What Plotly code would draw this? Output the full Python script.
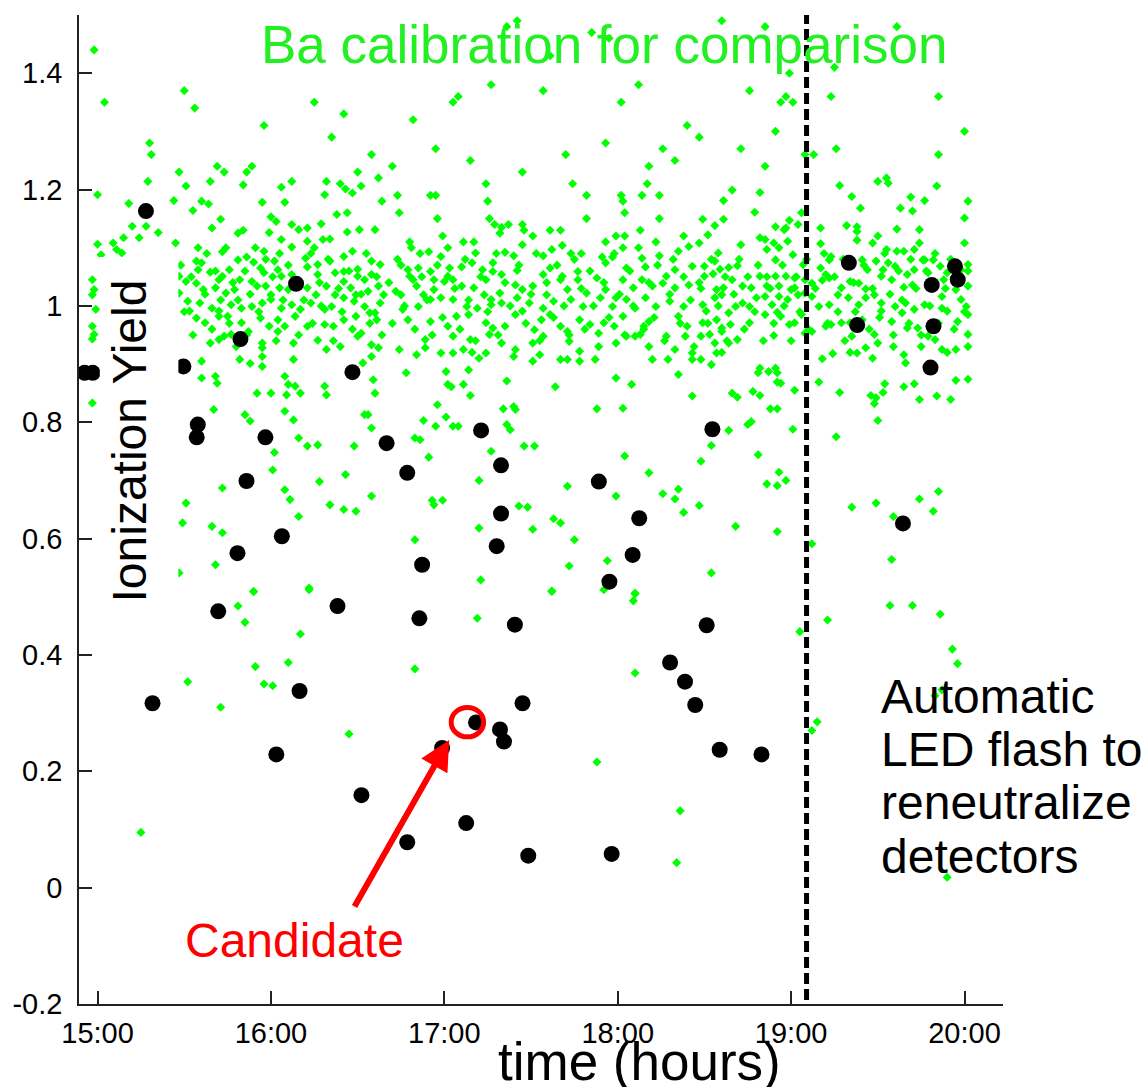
import plotly.graph_objects as go

# ---------------- data (time in hours, ionization yield) ----------------
tick_hours = [15, 16, 17, 18, 19, 20]
tick_hour_labels = ["15:00", "16:00", "17:00", "18:00", "19:00", "20:00"]
y_tick_vals = [-0.2, 0, 0.2, 0.4, 0.6, 0.8, 1.0, 1.2, 1.4]
y_tick_labels = ["-0.2", "0", "0.2", "0.4", "0.6", "0.8", "1", "1.2", "1.4"]

led_flash_time = 19.089
candidate_time = 17.133
candidate_yield = 0.2845

# black: WIMP-search events
events = [
    (14.925, 0.885), (14.972, 0.885),
    (15.279, 1.163), (16.145, 1.038), (15.824, 0.943), (15.495, 0.896), (16.470, 0.886),
    (15.578, 0.796), (15.572, 0.774), (15.968, 0.774), (16.667, 0.764), (15.859, 0.699),
    (16.063, 0.604), (15.807, 0.575),
    (15.696, 0.475), (16.384, 0.484), (15.317, 0.317), (16.165, 0.338), (16.031, 0.229),
    (16.522, 0.159),
    (17.212, 0.786), (16.786, 0.713), (17.327, 0.726), (17.891, 0.698), (17.327, 0.643),
    (18.124, 0.635), (17.302, 0.587), (18.086, 0.572), (16.872, 0.555), (17.952, 0.526),
    (16.856, 0.463), (17.407, 0.452), (18.302, 0.387), (18.388, 0.354), (18.447, 0.314),
    (17.451, 0.317), (17.183, 0.284), (17.321, 0.272), (17.344, 0.251), (16.987, 0.240),
    (17.126, 0.111), (16.786, 0.078), (17.484, 0.055), (17.965, 0.058),
    (19.333, 1.074), (19.945, 1.068), (19.961, 1.045), (19.811, 1.036), (19.381, 0.967),
    (19.821, 0.965), (19.804, 0.894), (18.546, 0.788), (19.645, 0.626),
    (18.513, 0.451), (18.588, 0.237), (18.829, 0.229),
]

# green: Ba calibration events, grouped by region of the chart
ba_top = [
    (14.98, 1.44), (15.04, 1.35), (15.50, 1.37), (15.56, 1.34), (15.96, 1.31), (15.30, 1.28),
    (15.31, 1.26), (15.69, 1.24), (15.73, 1.23), (15.47, 1.23), (15.89, 1.24), (15.86, 1.23),
    (16.25, 1.35), (16.35, 1.29), (16.42, 1.33), (16.50, 1.23), (16.58, 1.26), (16.62, 1.22),
    (16.70, 1.24), (16.82, 1.32), (16.95, 1.27), (17.05, 1.35), (17.08, 1.36), (17.15, 1.25),
    (17.27, 1.38), (17.36, 1.48), (17.42, 1.49), (17.45, 1.23), (17.57, 1.37), (17.61, 1.43),
    (17.70, 1.26), (17.85, 1.47), (17.93, 1.28), (17.95, 1.46), (18.02, 1.35), (18.12, 1.38),
    (18.18, 1.24), (18.26, 1.27), (18.33, 1.25), (18.40, 1.31),
    (18.60, 1.49), (18.85, 1.48), (19.61, 1.48), (18.99, 1.40), (19.25, 1.41), (18.76, 1.37),
    (18.94, 1.35), (18.97, 1.36), (19.01, 1.35), (19.23, 1.36), (19.85, 1.36), (20.00, 1.30),
    (18.91, 1.30), (18.47, 1.29), (18.71, 1.27), (18.85, 1.24), (19.08, 1.26), (19.13, 1.26),
    (19.26, 1.27), (19.85, 1.26), (19.55, 1.22),
]

ba_left = [
    (15.29, 1.214), (15.51, 1.206), (15.65, 1.214), (15.84, 1.208), (16.06, 1.204), (16.12, 1.214),
    (16.32, 1.214), (16.40, 1.210), (16.47, 1.194), (16.52, 1.206), (16.43, 1.201), (15.00, 1.191),
    (15.44, 1.181), (15.60, 1.180), (15.64, 1.175), (15.95, 1.178), (16.08, 1.178), (16.31, 1.191),
    (16.64, 1.180), (15.18, 1.176), (15.55, 1.164), (16.38, 1.157), (16.44, 1.160), (15.20, 1.137),
    (15.24, 1.117), (15.28, 1.137), (15.35, 1.126), (15.00, 1.106), (15.02, 1.088), (15.09, 1.108),
    (15.11, 1.097), (15.14, 1.091), (15.15, 1.117), (15.45, 1.108), (15.71, 1.149), (15.66, 1.134),
    (15.81, 1.125), (15.84, 1.130), (16.00, 1.153), (16.03, 1.145), (15.99, 1.126), (16.06, 1.114),
    (16.12, 1.140), (16.16, 1.131), (16.21, 1.134), (16.29, 1.141), (16.44, 1.127), (16.51, 1.131),
    (16.60, 1.131),
    (15.72, 1.093), (15.81, 1.079), (15.86, 1.084), (15.90, 1.075), (15.96, 1.094), (16.02, 1.077),
    (16.12, 1.101), (16.21, 1.111), (16.25, 1.100), (16.30, 1.114), (16.34, 1.115), (16.20, 1.082),
    (16.27, 1.071), (16.34, 1.077), (16.42, 1.085), (16.47, 1.094), (16.50, 1.063), (16.58, 1.077),
    (16.63, 1.071), (15.57, 1.077), (15.60, 1.074), (15.58, 1.062), (15.65, 1.058), (15.72, 1.051),
    (15.76, 1.062), (15.82, 1.045), (15.89, 1.042), (15.94, 1.065), (15.96, 1.057), (16.04, 1.062),
    (16.06, 1.051), (16.12, 1.054), (16.21, 1.067), (16.27, 1.054), (16.37, 1.057), (16.42, 1.059),
    (16.50, 1.051), (16.54, 1.045), (16.58, 1.054), (15.47, 1.051), (15.51, 1.042), (15.57, 1.039),
    (15.61, 1.028), (15.68, 1.031), (15.74, 1.022), (15.79, 1.028), (15.70, 1.045), (15.92, 1.034),
    (15.97, 1.034), (16.00, 1.019), (16.05, 1.031), (16.10, 1.028), (16.21, 1.031), (16.26, 1.019),
    (16.32, 1.034), (16.37, 1.019), (16.42, 1.042), (16.46, 1.031), (16.49, 1.019), (16.56, 1.025),
    (16.62, 1.034), (16.65, 1.019), (15.47, 1.022), (15.52, 1.008), (15.59, 1.005), (15.66, 0.996),
    (15.70, 0.991), (15.77, 1.002), (15.83, 0.996), (15.89, 0.999), (15.95, 1.005), (16.00, 1.011),
    (16.06, 0.996), (16.12, 1.002), (16.17, 0.994), (16.23, 1.005), (16.31, 0.994), (16.35, 0.999),
    (16.42, 1.014), (16.48, 1.008), (16.54, 0.999), (16.60, 0.988), (16.63, 1.005), (15.53, 0.991),
    (15.57, 0.979), (15.62, 0.971), (15.70, 0.982), (15.75, 0.982), (15.83, 0.971), (15.94, 0.979),
    (15.99, 0.965), (16.04, 0.976), (16.08, 0.965), (16.14, 0.982), (16.21, 0.965), (16.31, 0.968),
    (16.36, 0.965), (16.42, 0.976), (16.49, 0.982), (16.57, 0.988), (16.61, 0.976), (15.65, 0.936),
    (15.70, 0.942), (15.73, 0.948), (15.77, 0.951), (15.95, 0.936), (15.95, 0.928), (16.04, 0.956),
    (16.13, 0.936), (16.27, 0.941), (16.32, 0.925), (16.40, 0.930), (16.50, 0.948), (16.52, 0.953),
    (16.58, 0.933), (16.62, 0.928), (15.87, 0.956),
    (15.60, 0.905), (15.60, 0.876), (15.68, 0.879), (15.69, 0.867), (15.82, 0.908), (15.88, 0.901),
    (15.95, 0.896), (15.95, 0.913), (16.13, 0.908), (16.08, 0.879), (16.10, 0.865), (16.14, 0.862),
    (16.00, 0.850), (16.09, 0.847), (15.92, 0.850), (16.17, 0.850), (16.31, 0.862), (16.32, 0.847),
    (16.53, 0.902), (16.58, 0.913), (16.59, 0.873), (16.60, 0.850), (15.67, 0.822), (15.85, 0.813),
    (15.88, 0.802), (16.08, 0.819), (16.13, 0.804), (16.16, 0.773), (16.02, 0.748), (16.21, 0.759),
    (16.27, 0.761), (16.48, 0.759), (16.54, 0.813), (16.56, 0.813), (16.58, 0.790), (16.01, 0.718),
    (16.28, 0.698), (16.43, 0.710), (15.72, 0.687), (16.08, 0.684), (16.11, 0.667), (16.34, 0.658),
    (16.42, 0.650), (16.49, 0.647), (16.58, 0.673), (15.51, 0.661), (15.49, 0.627), (15.66, 0.621),
    (15.72, 0.610), (16.16, 0.638), (15.68, 0.555), (15.90, 0.509), (16.22, 0.515), (15.47, 0.541),
    (14.97, 1.045), (14.98, 1.028), (14.97, 1.019), (14.99, 0.994), (14.97, 0.965), (14.98, 0.951),
    (14.97, 0.943), (14.97, 0.833),
]

ba_middle = [
    (16.73, 1.19), (16.74, 1.16), (16.92, 1.19), (16.95, 1.19), (16.96, 1.15), (17.24, 1.21),
    (17.25, 1.18), (17.26, 1.15), (17.29, 1.14), (17.32, 1.125), (17.33, 1.135), (17.37, 1.14),
    (17.45, 1.14), (17.46, 1.13), (17.51, 1.12), (17.61, 1.13), (17.67, 1.13), (17.74, 1.21),
    (17.82, 1.19), (17.82, 1.15), (18.02, 1.19), (18.03, 1.18), (18.04, 1.16), (18.14, 1.19),
    (18.17, 1.21), (18.24, 1.19), (18.24, 1.15), (18.13, 1.13), (18.22, 1.11), (18.38, 1.12),
    (16.99, 1.12), (17.11, 1.11), (17.17, 1.11), (17.93, 1.11), (17.99, 1.12), (18.04, 1.12),
    (16.81, 1.100), (16.75, 1.070), (16.86, 1.090), (16.91, 1.093), (16.98, 1.085), (17.10, 1.067),
    (17.16, 1.074), (17.18, 1.091), (17.28, 1.074), (17.35, 1.092), (17.40, 1.086), (17.45, 1.105),
    (17.57, 1.086), (17.62, 1.097), (17.68, 1.104), (17.73, 1.090), (17.79, 1.090), (17.91, 1.084),
    (17.97, 1.084), (18.03, 1.100), (18.14, 1.082), (18.24, 1.086), (18.35, 1.094), (18.41, 1.102),
    (17.22, 1.062), (17.28, 1.059), (17.33, 1.054), (17.42, 1.061), (17.57, 1.054), (17.61, 1.065),
    (17.68, 1.051), (17.77, 1.059), (17.93, 1.074), (18.05, 1.065), (18.16, 1.067), (18.28, 1.051),
    (18.33, 1.062), (18.43, 1.068), (16.79, 1.062), (16.85, 1.065), (16.92, 1.059), (17.03, 1.065),
    (16.94, 1.045), (17.02, 1.051),
    (16.72, 1.025), (16.75, 1.019), (16.80, 1.051), (16.82, 1.045), (16.84, 1.034), (16.88, 1.019),
    (16.94, 1.028), (17.00, 1.042), (17.05, 1.045), (17.10, 1.034), (17.17, 1.031), (17.24, 1.045),
    (17.23, 1.019), (17.32, 1.022), (17.27, 1.011), (17.41, 1.036), (17.45, 1.028), (17.51, 1.034),
    (17.59, 1.019), (17.67, 1.045), (17.71, 1.028), (17.77, 1.045), (17.82, 1.022), (17.88, 1.048),
    (17.93, 1.028), (17.99, 1.014), (18.03, 1.045), (18.09, 1.031), (18.14, 1.045), (18.20, 1.034),
    (18.26, 1.039), (18.33, 1.031), (18.41, 1.036), (16.76, 0.994), (16.85, 0.999), (16.92, 1.011),
    (16.98, 1.014), (17.05, 1.011), (17.13, 0.999), (17.19, 0.996), (17.27, 1.002), (17.33, 1.005),
    (17.42, 1.014), (17.49, 1.005), (17.57, 0.996), (17.63, 1.008), (17.73, 1.011), (17.80, 0.999),
    (17.90, 1.014), (17.97, 0.999), (18.05, 1.011), (18.10, 0.996), (18.16, 1.014), (18.22, 0.999),
    (18.30, 1.008), (18.38, 0.999),
    (16.79, 0.976), (16.92, 0.973), (17.02, 0.965), (17.07, 0.982), (17.14, 0.985), (17.24, 0.971),
    (17.28, 0.962), (17.35, 0.965), (17.41, 0.985), (17.45, 0.991), (17.52, 0.959), (17.56, 0.976),
    (17.61, 0.985), (17.67, 0.965), (17.71, 0.956), (17.78, 0.976), (17.84, 0.968), (17.92, 0.971),
    (17.98, 0.965), (18.03, 0.982), (18.10, 0.948), (18.15, 0.965), (18.18, 0.973), (18.28, 0.948),
    (18.35, 0.982), (18.40, 0.965), (16.89, 0.942), (16.89, 0.928), (17.05, 0.948), (17.15, 0.942),
    (17.26, 0.951), (17.33, 0.936), (17.41, 0.925), (17.51, 0.936), (17.57, 0.948), (17.72, 0.939),
    (17.78, 0.922), (17.89, 0.953), (17.99, 0.936), (18.05, 0.948), (18.13, 0.951), (18.18, 0.930),
    (18.33, 0.925), (18.39, 0.948), (18.43, 0.919),
    (16.74, 0.925), (16.84, 0.916), (16.98, 0.919), (17.05, 0.919), (17.11, 0.925), (17.16, 0.920),
    (17.20, 0.910), (17.24, 0.919), (17.40, 0.913), (17.51, 0.905), (17.55, 0.916), (17.67, 0.908),
    (17.71, 0.908), (17.78, 0.905), (17.87, 0.908), (17.99, 0.876), (18.08, 0.865), (18.20, 0.908),
    (18.29, 0.908), (18.35, 0.882), (18.43, 0.908), (16.78, 0.885), (17.01, 0.887), (17.14, 0.890),
    (17.02, 0.865), (17.04, 0.861), (17.11, 0.865), (17.15, 0.846), (17.36, 0.871), (17.64, 0.861),
    (17.88, 0.823), (18.03, 0.824), (16.96, 0.830), (17.01, 0.809), (16.88, 0.803), (16.95, 0.793),
    (17.05, 0.793), (17.08, 0.793), (17.34, 0.823), (17.40, 0.827), (17.41, 0.822), (17.36, 0.796),
    (17.38, 0.787), (16.83, 0.773), (16.86, 0.770), (18.43, 0.845), (17.27, 0.750), (17.46, 0.759),
    (17.52, 0.759), (16.91, 0.740), (18.04, 0.742), (18.18, 0.713), (18.26, 0.677), (18.35, 0.685),
    (17.99, 0.673), (18.33, 0.668), (18.38, 0.645), (17.71, 0.690), (17.20, 0.700), (16.93, 0.666),
    (16.94, 0.658), (16.99, 0.666), (17.43, 0.656), (17.48, 0.654), (17.63, 0.634), (17.67, 0.627),
    (17.20, 0.618), (17.51, 0.616), (16.83, 0.598), (17.75, 0.598), (17.94, 0.562), (17.72, 0.553),
    (17.21, 0.529), (17.62, 0.510), (18.10, 0.506),
]

ba_right = [
    (18.66, 1.199), (18.61, 1.181), (18.82, 1.195), (18.79, 1.161), (18.49, 1.149), (18.61, 1.149),
    (18.56, 1.138), (18.52, 1.122), (18.47, 1.108), (18.71, 1.105), (18.82, 1.117), (18.85, 1.114),
    (18.91, 1.136), (18.96, 1.131), (18.99, 1.147), (19.04, 1.140), (19.06, 1.160), (18.97, 1.134),
    (18.90, 1.108), (18.86, 1.097), (18.93, 1.100), (18.98, 1.111), (19.01, 1.088), (18.91, 1.079),
    (19.28, 1.207), (19.35, 1.188), (19.40, 1.168), (19.50, 1.214), (19.56, 1.211), (19.63, 1.168),
    (19.69, 1.187), (19.70, 1.163), (19.77, 1.181), (19.84, 1.206), (20.02, 1.180), (20.00, 1.151),
    (19.32, 1.138), (19.38, 1.136), (19.38, 1.128), (19.17, 1.134), (19.17, 1.107), (19.23, 1.085),
    (19.22, 1.079), (19.38, 1.113), (19.50, 1.120), (19.47, 1.108), (19.61, 1.132), (19.74, 1.131),
    (19.74, 1.108), (19.55, 1.097), (19.61, 1.094), (19.65, 1.094), (19.71, 1.097), (20.00, 1.108),
    (19.77, 1.079),
    (18.58, 1.091), (18.56, 1.077), (18.64, 1.066), (18.69, 1.069), (18.50, 1.068), (18.50, 1.051),
    (18.55, 1.055), (18.47, 1.040), (18.59, 1.063), (19.17, 1.065), (19.20, 1.054), (19.22, 1.048),
    (19.18, 1.044), (19.29, 1.031), (19.34, 1.042), (19.39, 1.039), (19.43, 1.029), (19.41, 1.079),
    (19.44, 1.062), (19.49, 1.077), (19.53, 1.062), (19.56, 1.074), (19.60, 1.068), (19.67, 1.054),
    (19.71, 1.062), (19.76, 1.079), (19.82, 1.079), (19.86, 1.068), (19.90, 1.057), (19.98, 1.062),
    (20.02, 1.071), (18.82, 1.051), (18.86, 1.050), (18.91, 1.051), (18.97, 1.051), (19.02, 1.048),
    (19.07, 1.071), (18.77, 1.031), (18.72, 1.034), (18.66, 1.045), (18.57, 1.028), (18.61, 1.031),
    (18.86, 1.034), (18.93, 1.034), (19.02, 1.031), (19.12, 1.039), (19.08, 1.045), (19.52, 1.051),
    (19.58, 1.045), (19.65, 1.032), (19.70, 1.036), (19.79, 1.057), (19.88, 1.045), (19.95, 1.028),
    (20.02, 1.034),
    (18.49, 1.002), (18.51, 0.991), (18.56, 1.014), (18.60, 1.019), (18.64, 0.988), (18.68, 0.999),
    (18.72, 1.005), (18.76, 0.999), (18.80, 1.014), (18.85, 1.016), (18.89, 1.002), (18.93, 1.016),
    (18.98, 1.011), (19.00, 1.028), (19.04, 1.019), (19.08, 1.022), (18.76, 0.971), (18.65, 0.968),
    (18.60, 0.962), (18.49, 0.971), (18.57, 0.976), (18.85, 0.985), (18.92, 0.989), (18.94, 0.982),
    (18.99, 0.968), (19.02, 0.971), (19.06, 0.985), (19.12, 1.016), (19.16, 0.999), (19.22, 1.002),
    (19.27, 1.019), (19.33, 1.014), (19.39, 1.002), (19.43, 1.014), (19.48, 1.019), (19.52, 1.005),
    (19.60, 0.999), (19.66, 1.005), (19.71, 0.994), (19.77, 1.002), (19.87, 1.016), (19.90, 0.991),
    (19.98, 1.011), (20.01, 0.999), (20.02, 0.985), (19.67, 0.962), (19.73, 0.962), (19.48, 0.951),
    (19.23, 0.968), (19.20, 0.965), (19.29, 0.971), (19.34, 0.971), (19.41, 0.976), (19.52, 0.991),
    (19.58, 0.973), (19.64, 0.988), (19.87, 0.996), (19.96, 0.973),
    (18.48, 0.948), (18.53, 0.951), (18.56, 0.936), (18.60, 0.956), (18.64, 0.936), (18.69, 0.942),
    (18.57, 0.919), (18.60, 0.920), (18.48, 0.908), (18.54, 0.899), (18.90, 0.949), (19.08, 0.953),
    (19.12, 0.956), (19.35, 0.948), (19.38, 0.919), (19.34, 0.920), (19.43, 0.928), (19.47, 0.910),
    (19.50, 0.936), (19.59, 0.930), (19.65, 0.916), (19.66, 0.902), (19.75, 0.930), (19.79, 0.948),
    (19.83, 0.942), (19.87, 0.925), (19.90, 0.920), (19.95, 0.925), (20.02, 0.951), (20.02, 0.930),
    (19.24, 0.918), (19.18, 0.909), (19.16, 0.869),
    (18.82, 0.893), (18.81, 0.885), (18.87, 0.887), (18.91, 0.893), (18.92, 0.885), (18.92, 0.869),
    (18.94, 0.867), (19.02, 0.855), (18.66, 0.850), (18.69, 0.843), (18.78, 0.853), (18.82, 0.846),
    (18.88, 0.823), (18.92, 0.823), (19.28, 0.851), (19.46, 0.846), (19.48, 0.832), (19.49, 0.842),
    (19.54, 0.866), (19.53, 0.851), (19.65, 0.861), (19.71, 0.866), (19.74, 0.839), (19.84, 0.845),
    (19.92, 0.839), (19.95, 0.872), (20.02, 0.874),
    (18.64, 0.786), (18.75, 0.796), (18.77, 0.801), (19.01, 0.788), (19.26, 0.775), (19.50, 0.803),
    (18.54, 0.760), (18.48, 0.733), (18.81, 0.744), (18.93, 0.714), (18.86, 0.694), (18.92, 0.691),
    (18.97, 0.700), (18.47, 0.657), (19.35, 0.654), (19.49, 0.661), (19.74, 0.668), (19.85, 0.681),
    (19.82, 0.647), (18.68, 0.621), (18.92, 0.612), (19.12, 0.591), (19.59, 0.638), (19.58, 0.564),
    (18.54, 0.541),
]

ba_band_extra = [
    (15.48, 1.07), (15.50, 0.99), (15.54, 1.05), (15.55, 0.95), (15.58, 1.10), (15.62, 1.02),
    (15.63, 1.09), (15.66, 0.96), (15.68, 1.06), (15.71, 1.01), (15.74, 1.10), (15.76, 0.97),
    (15.78, 1.04), (15.80, 0.93), (15.81, 1.01), (15.85, 1.06), (15.86, 0.95), (15.88, 1.02),
    (15.91, 1.10), (15.93, 0.99), (15.97, 1.08), (16.01, 1.05), (16.03, 0.94), (16.05, 1.09),
    (16.07, 1.01), (16.10, 1.07), (16.15, 1.04), (16.16, 0.95), (16.19, 1.01), (16.23, 1.09),
    (16.24, 0.97), (16.28, 1.04), (16.29, 1.00), (16.33, 1.08), (16.36, 0.94), (16.39, 1.03),
    (16.41, 0.99), (16.45, 1.06), (16.47, 0.96), (16.52, 1.02), (16.55, 1.09), (16.57, 0.97),
    (16.61, 1.05), (16.64, 0.95),
    (16.68, 1.04), (16.70, 0.97), (16.73, 1.08), (16.77, 1.00), (16.80, 1.11), (16.83, 0.96),
    (16.87, 1.05), (16.90, 1.01), (16.93, 0.95), (16.96, 1.07), (16.99, 0.98), (17.02, 1.10),
    (17.06, 1.03), (17.09, 0.96), (17.12, 1.08), (17.14, 1.01), (17.18, 0.94), (17.21, 1.05),
    (17.25, 0.99), (17.30, 1.09), (17.31, 0.95), (17.35, 1.04), (17.38, 1.00), (17.43, 1.07),
    (17.47, 0.97), (17.50, 1.02), (17.53, 1.09), (17.55, 0.94), (17.59, 1.04), (17.63, 0.98),
    (17.65, 1.07), (17.69, 1.00), (17.72, 0.95), (17.75, 1.08), (17.79, 1.03), (17.81, 0.96),
    (17.84, 1.06), (17.86, 1.00), (17.89, 0.93), (17.92, 1.04), (17.95, 0.98), (17.98, 1.09),
    (18.01, 1.02), (18.04, 0.95), (18.07, 1.06), (18.09, 1.00), (18.12, 1.10), (18.15, 0.96),
    (18.18, 1.04), (18.21, 0.98), (18.23, 1.07), (18.27, 0.94), (18.30, 1.02), (18.32, 1.08),
    (18.36, 0.97), (18.38, 1.05), (18.42, 1.01), (18.44, 0.93),
    (18.48, 1.03), (18.52, 0.97), (18.54, 1.08), (18.58, 1.00), (18.62, 1.05), (18.63, 0.94),
    (18.67, 1.02), (18.70, 1.08), (18.73, 0.96), (18.75, 1.05), (18.79, 0.99), (18.81, 1.07),
    (18.84, 0.94), (18.88, 1.03), (18.90, 0.97), (18.95, 1.07), (18.96, 1.00), (19.00, 0.94),
    (19.03, 1.05), (19.05, 0.99), (19.09, 1.08), (19.10, 0.96), (19.14, 1.03), (19.19, 1.09),
    (19.21, 0.97), (19.25, 1.05), (19.27, 0.99), (19.30, 1.08), (19.31, 0.94), (19.36, 1.04),
    (19.37, 0.99), (19.42, 1.07), (19.45, 0.96), (19.47, 1.03), (19.51, 0.98), (19.54, 1.09),
    (19.57, 1.02), (19.59, 0.95), (19.62, 1.06), (19.64, 1.01), (19.68, 0.97), (19.69, 1.08),
    (19.72, 1.03), (19.75, 0.95), (19.78, 1.06), (19.80, 1.00), (19.83, 1.09), (19.85, 0.97),
    (19.89, 1.03), (19.92, 1.08), (19.94, 0.96), (19.97, 1.04), (20.00, 0.99), (20.02, 1.06),
]

ba_low = [
    (15.81, 0.484), (15.90, 0.509), (15.85, 0.456), (16.22, 0.512), (16.17, 0.436), (15.91, 0.380),
    (16.10, 0.387), (15.52, 0.354), (15.96, 0.350), (16.01, 0.347), (15.71, 0.310), (16.45, 0.264),
    (15.25, 0.095),
    (17.19, 0.463), (16.83, 0.376), (17.62, 0.509), (18.10, 0.505), (18.09, 0.493), (18.10, 0.369),
    (17.88, 0.216), (18.36, 0.132), (18.34, 0.043), (17.16, 0.283), (17.92, 0.512),
    (19.05, 0.44), (19.12, 0.27), (19.15, 0.285), (19.21, 0.46), (19.57, 0.485), (19.70, 0.485),
    (19.86, 0.47), (19.83, 0.33), (19.87, 0.34), (19.93, 0.41), (19.96, 0.385), (19.90, 0.018),
]

ba_all = ba_top + ba_left + ba_middle + ba_right + ba_band_extra + ba_low
ba_t = [p[0] for p in ba_all]
ba_y = [p[1] for p in ba_all]
ev_t = [p[0] for p in events]
ev_y = [p[1] for p in events]

FONT = "Liberation Sans, Arial, Helvetica, sans-serif"

fig = go.Figure()
fig.add_trace(go.Scatter(
    x=ba_t, y=ba_y, mode="markers",
    marker=dict(symbol="diamond", size=7, color="#00ff00", line=dict(width=0)),
    hoverinfo="skip",
))
fig.add_trace(go.Scatter(
    x=ev_t, y=ev_y, mode="markers",
    marker=dict(symbol="circle", size=16, color="black", line=dict(width=0)),
    hoverinfo="skip",
))

axis_common = dict(
    showgrid=False, zeroline=False, showline=True, linecolor="#222222", linewidth=1.5,
    ticks="inside", ticklen=13, tickwidth=1.5, tickcolor="#222222",
    tickfont=dict(family=FONT, size=29, color="black"), mirror=False,
)
fig.update_xaxes(range=[14.893, 20.222], tickmode="array", tickvals=tick_hours,
                 ticktext=tick_hour_labels, ticklabelstandoff=2, **axis_common)
fig.update_yaxes(range=[-0.2, 1.5], tickmode="array", tickvals=y_tick_vals,
                 ticktext=y_tick_labels, ticklabelstandoff=9, **axis_common)

shapes = [
    # white panel behind the y-axis label
    dict(type="rect", xref="x", yref="y", x0=15.013, x1=15.466, y0=0.474, y1=1.084,
         fillcolor="white", line=dict(width=0), layer="above"),
    # LED flash marker
    dict(type="line", xref="x", yref="paper", x0=led_flash_time, x1=led_flash_time, y0=0.004, y1=1,
         line=dict(color="black", width=5, dash="11px,5px"), layer="above"),
    # candidate ring
    dict(type="circle", xref="x", yref="y",
         x0=candidate_time - 0.0935, x1=candidate_time + 0.0935,
         y0=candidate_yield - 0.0253, y1=candidate_yield + 0.0253,
         line=dict(color="red", width=5), layer="above"),
]

annotations = [
    dict(text="Ba calibration for comparison", xref="x", yref="paper", x=17.92, y=0.9697,
         xanchor="center", yanchor="middle", showarrow=False,
         font=dict(family=FONT, size=53, color="#22f022")),
    dict(text="Ionization Yield", xref="x", yref="y", x=15.185, y=0.768, textangle=-90,
         xanchor="center", yanchor="middle", showarrow=False,
         font=dict(family=FONT, size=48, color="black")),
    dict(text="time (hours)", xref="x", yref="paper", x=18.128, y=-0.0586,
         xanchor="center", yanchor="middle", showarrow=False,
         font=dict(family=FONT, size=53, color="black")),
    dict(text="Candidate", xref="x", yref="y", x=16.138, y=-0.090,
         xanchor="center", yanchor="middle", showarrow=False,
         font=dict(family=FONT, size=48, color="red")),
    dict(text="", xref="x", yref="y", x=17.028, y=0.254, axref="x", ayref="y",
         ax=16.477, ay=-0.035, showarrow=True, arrowhead=2, arrowsize=1,
         arrowwidth=6, arrowcolor="red", standoff=0),
]
led_lines = ["Automatic", "LED flash to", "reneutralize", "detectors"]
led_line_y = [0.328, 0.237, 0.146, 0.054]
for txt, yy in zip(led_lines, led_line_y):
    annotations.append(dict(text=txt, xref="paper", yref="y", x=0.8654, y=yy,
                            xanchor="left", yanchor="middle", showarrow=False,
                            font=dict(family=FONT, size=48, color="black")))

fig.update_layout(
    width=1144, height=1087,
    margin=dict(l=74, r=141, t=15, b=83),
    paper_bgcolor="white", plot_bgcolor="white",
    showlegend=False, shapes=shapes, annotations=annotations,
    font=dict(family=FONT),
)

fig.write_html("out.html")
